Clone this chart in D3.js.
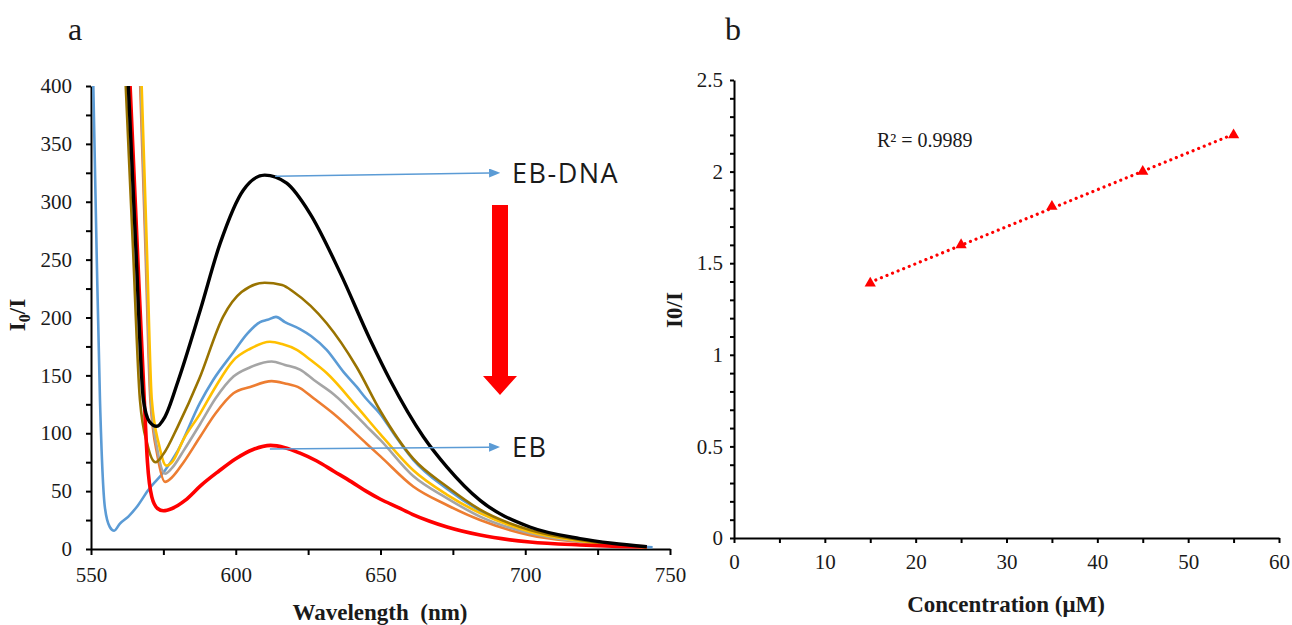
<!DOCTYPE html>
<html>
<head>
<meta charset="utf-8">
<title>EB-DNA fluorescence quenching</title>
<script src="https://d3js.org/d3.v7.min.js"></script>
<style>
  body { margin: 0; background: white; }
  svg text { font-family: "Liberation Serif", "Times New Roman", serif; fill: #1a1a1a; }
  .axis path, .axis line { stroke: #000; stroke-width: 2px; }
  .lbl { font-weight: bold; font-size: 23px; }
  .note { font-family: "Open Sans", sans-serif; font-size: 27px; letter-spacing: 1.5px; }
</style>
</head>
<body>
<svg id="chart" width="1292" height="625"></svg>
<script>
// ---- panel a : emission spectra [wavelength nm, I0/I] ----
var specBlack = [[562.9,400],[565.5,260],[568.1,129],[570.2,110],[572.7,106],[575.5,114],[580.2,146],[587.7,206],[594.6,264],[602.6,310],[610,323],[617.6,316],[625.6,290],[636,239],[646.4,181],[653.3,146],[664.8,97],[672.9,71],[684.4,42],[701.6,19],[718.9,9],[730,5],[742,2]];
var specOlive = [[562,400],[564.5,260],[566.9,129],[569.5,90],[572.3,75],[575,82],[580,106],[587.4,147],[595.7,201],[602,222],[610,230],[616,228],[620,222],[631.4,195],[641.8,157],[650,119],[661.3,78],[672.9,54],[684.4,34],[701.6,16.4],[718.9,7.8],[730,4],[742,1.5]];
var specBlue = [[550.8,400],[552,250],[553.1,129],[554.8,36],[556.5,19],[558,15.8],[560,22],[562.9,28],[566,37],[569.8,51],[575.6,68],[580,85],[587.6,126],[592.2,146],[599.2,170],[604,186],[608.4,196],[611,198],[613.9,200.5],[617,196],[622.2,190],[626,184],[631.4,172],[637.2,153],[641.8,140],[645,130],[649.8,117],[655,98],[661.3,77],[672.9,52],[684.4,33],[701.6,16],[718.9,7.5],[730,4],[744,1.5]];
var specYellow = [[567.5,400],[569.3,260],[571,129],[573.5,90],[576,72],[578,75],[582,95],[587.7,117],[593,140],[599.2,163],[605,173],[611.8,179],[616,177],[621.1,172],[626,163],[631.4,152],[641.8,123],[650,99],[661.3,68],[672.9,47],[684.4,31],[701.6,15],[718.9,7],[730,3.5],[742,1.5]];
var specGray = [[567.2,400],[569,260],[570.7,129],[573,85],[575.6,65],[578,70],[582,85],[587.7,108],[593,130],[599.2,149],[605,157],[612.4,162],[617,159],[622.2,155],[627,146],[633.7,134],[645.2,106],[650,94],[661.3,63],[672.9,44],[684.4,28],[701.6,13.6],[718.9,6.5],[730,3.5],[742,1.3]];
var specOrange = [[567,400],[568.8,260],[570.5,129],[573,80],[575.6,58],[578,62],[582,75],[587.7,97],[593,117],[599.2,134.5],[605,140],[612.4,145],[617,143],[622.2,139],[627,130],[633.7,117],[645.2,91],[650,80],[661.3,54],[672.9,38],[684.4,25],[701.6,12],[718.9,6],[730,3],[742,1.2]];
var specRed = [[563.5,400],[566,260],[568.4,129],[569.5,75],[571,45],[573,35],[575,33],[578,35],[582.5,42],[588,55],[594,67],[600,78],[606,86],[612,89.5],[617,87.5],[622,83],[628,76],[634,67],[640,58],[645,50],[650,43],[656,36],[661,30],[667,24],[673,19],[684.4,12],[701.6,6],[718.9,3.5],[730,2.5],[742,2]];

var seriesA = [
  {data: specBlue, color: "#5B9BD5", w: 2.6},
  {data: specOrange, color: "#ED7D31", w: 2.6},
  {data: specGray, color: "#A5A5A5", w: 2.6},
  {data: specYellow, color: "#FFC000", w: 2.6},
  {data: specOlive, color: "#997300", w: 2.6},
  {data: specRed, color: "#FF0000", w: 3.6},
  {data: specBlack, color: "#000000", w: 3.4}
];

// ---- panel b : Stern-Volmer points ----
var conc = [15, 25, 35, 45, 55];
var ratio = [1.39, 1.60, 1.81, 2.00, 2.20];

var serif = '"Liberation Serif", "Times New Roman", serif';
var svg = d3.select("#chart");

function styleTicks(g) {
  g.selectAll(".tick text")
    .style("font-family", serif)
    .style("font-size", "21px")
    .attr("fill", "#1a1a1a");
}

// ================= panel a =================
var xA = d3.scaleLinear().domain([550, 750]).range([91, 670]);
var yA = d3.scaleLinear().domain([0, 400]).range([549, 86]);

svg.append("defs").append("clipPath").attr("id", "clipA")
  .append("rect").attr("x", 91).attr("y", 84).attr("width", 581).attr("height", 466);

var gA = svg.append("g");

gA.append("g").attr("class", "axis")
  .attr("transform", "translate(0," + yA(0) + ")")
  .call(d3.axisBottom(xA).tickValues(d3.range(550, 751, 25)).tickSize(6).tickSizeOuter(0).tickPadding(12)
    .tickFormat(function(d) { return d % 50 === 0 ? d : ""; }))
  .call(styleTicks);

gA.append("g").attr("class", "axis")
  .attr("transform", "translate(" + xA(550) + ",0)")
  .call(d3.axisLeft(yA).tickValues(d3.range(0, 401, 25)).tickSize(5).tickSizeOuter(0).tickPadding(14)
    .tickFormat(function(d) { return d % 50 === 0 ? d : ""; }))
  .call(styleTicks);

var lineA = d3.line()
  .x(function(d) { return xA(d[0]); })
  .y(function(d) { return yA(d[1]); })
  .curve(d3.curveMonotoneX);

gA.append("g").attr("clip-path", "url(#clipA)")
  .selectAll("path").data(seriesA).enter().append("path")
  .attr("d", function(s) { return lineA(s.data); })
  .attr("fill", "none")
  .attr("stroke", function(s) { return s.color; })
  .attr("stroke-width", function(s) { return s.w; })
  .attr("stroke-linejoin", "round");

// annotation arrows
var marker = svg.select("defs").append("marker")
  .attr("id", "headBlue").attr("markerUnits", "userSpaceOnUse")
  .attr("markerWidth", 11).attr("markerHeight", 9)
  .attr("refX", 0).attr("refY", 4.5).attr("orient", "auto");
marker.append("path").attr("d", "M0,0 L11,4.5 L0,9 Z").attr("fill", "#5B9BD5");

var notes = [
  {from: [613.6, 322], to: [687.5, 324.8], text: "EB-DNA"},
  {from: [611.8, 86.4], to: [687.5, 88], text: "EB"}
];
notes.forEach(function(n) {
  gA.append("line")
    .attr("x1", xA(n.from[0])).attr("y1", yA(n.from[1]))
    .attr("x2", xA(n.to[0])).attr("y2", yA(n.to[1]))
    .attr("stroke", "#5B9BD5").attr("stroke-width", 1.5)
    .attr("marker-end", "url(#headBlue)");
  gA.append("text").attr("class", "note")
    .attr("x", xA(n.to[0]) + 23).attr("y", yA(n.to[1]) + 10)
    .text(n.text);
});

// big red arrow
gA.append("path")
  .attr("d", "M492,205 L508,205 L508,376 L517,376 L500,395 L483,376 L492,376 Z")
  .attr("fill", "#FF0000");

// labels
gA.append("text").attr("x", 75).attr("y", 40).attr("text-anchor", "middle")
  .style("font-size", "32px").text("a");
gA.append("text").attr("class", "lbl").attr("x", 380).attr("y", 620)
  .attr("text-anchor", "middle").attr("xml:space", "preserve").text("Wavelength  (nm)");
var yLabA = gA.append("text").attr("class", "lbl").attr("text-anchor", "middle")
  .attr("transform", "translate(25,315) rotate(-90)");
yLabA.append("tspan").text("I");
yLabA.append("tspan").attr("dy", 5).style("font-size", "16px").text("0");
yLabA.append("tspan").attr("dy", -5).text("/I");

// ================= panel b =================
var xB = d3.scaleLinear().domain([0, 60]).range([734, 1279]);
var yB = d3.scaleLinear().domain([0, 2.5]).range([538, 80]);

var gB = svg.append("g");

gB.append("g").attr("class", "axis")
  .attr("transform", "translate(0," + yB(0) + ")")
  .call(d3.axisBottom(xB).tickValues(d3.range(0, 61, 5)).tickSize(5).tickSizeOuter(0).tickPadding(11)
    .tickFormat(function(d) { return d % 10 === 0 ? d : ""; }))
  .call(styleTicks);

gB.append("g").attr("class", "axis")
  .attr("transform", "translate(" + xB(0) + ",0)")
  .call(d3.axisLeft(yB).tickValues(d3.range(0, 26).map(function(i) { return i / 10; }))
    .tickSize(4).tickSizeOuter(0).tickPadding(7)
    .tickFormat(function(d) { return Math.round(d * 10) % 5 === 0 ? d3.format("")(d) : ""; }))
  .call(styleTicks);

// least-squares trendline
var mx = d3.mean(conc), my = d3.mean(ratio);
var slope = d3.sum(conc, function(c, i) { return (c - mx) * (ratio[i] - my); }) /
            d3.sum(conc, function(c) { return (c - mx) * (c - mx); });
var icpt = my - slope * mx;
gB.append("line")
  .attr("x1", xB(conc[0])).attr("y1", yB(icpt + slope * conc[0]))
  .attr("x2", xB(conc[4])).attr("y2", yB(icpt + slope * conc[4]))
  .attr("stroke", "#FF0000").attr("stroke-width", 3.2)
  .attr("stroke-linecap", "round").attr("stroke-dasharray", "0.01,6");

gB.selectAll(".pt").data(conc).enter().append("path")
  .attr("class", "pt")
  .attr("d", d3.symbol(d3.symbolTriangle, 55))
  .attr("transform", function(c, i) { return "translate(" + xB(c) + "," + yB(ratio[i]) + ")"; })
  .attr("fill", "#FF0000");

gB.append("text").attr("x", 877).attr("y", 147).style("font-size", "20px").text("R² = 0.9989");

gB.append("text").attr("x", 733).attr("y", 40).attr("text-anchor", "middle")
  .style("font-size", "32px").text("b");
gB.append("text").attr("class", "lbl").attr("x", 1006).attr("y", 612)
  .attr("text-anchor", "middle").text("Concentration (μM)");
gB.append("text").attr("class", "lbl").attr("text-anchor", "middle")
  .attr("transform", "translate(682,310) rotate(-90)").text("I0/I");
</script>
</body>
</html>
